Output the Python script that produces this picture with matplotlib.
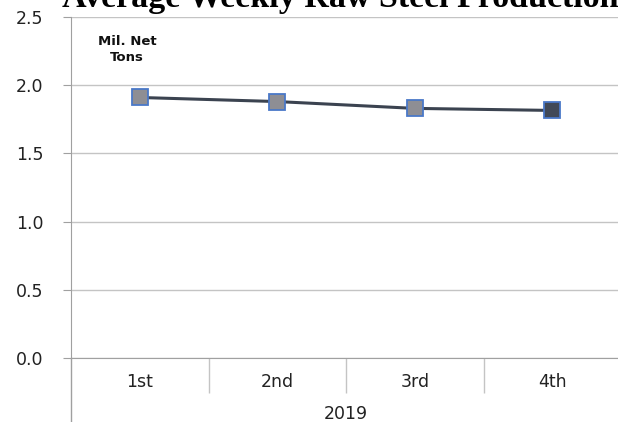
import matplotlib.pyplot as plt
import numpy as np

# Quarterly averages, 2019
quarters = ["1st", "2nd", "3rd", "4th"]
production = [1.91, 1.88, 1.83, 1.815]
year_label = "2019"
y_ticks = [0.0, 0.5, 1.0, 1.5, 2.0, 2.5]

fig = plt.figure(figsize=(6.18, 4.22), dpi=100)
ax = fig.add_axes([71 / 618, 1 - 358 / 422, 550 / 618, (358 - 17) / 422])

x = np.arange(len(quarters))
ax.plot(x, production, color="#3b4350", lw=2.2, zorder=3)
fills = ["#8e8e94", "#8e8e94", "#8e8e94", "#414957"]
for xi, yi, fc in zip(x, production, fills):
    ax.plot(xi, yi, marker="s", ms=11.5, mfc=fc, mec="#4a78c8", mew=1.3, zorder=4)

ax.set_xlim(-0.5, len(quarters) - 0.5)
ax.set_ylim(0, 2.5)
ax.set_yticks(y_ticks)
ax.set_yticklabels([f"{v:.1f}" for v in y_ticks], fontsize=12.5, color="#222222")
ax.yaxis.grid(True, color="#c4c4c4", lw=1)
ax.set_axisbelow(True)

for s in ["top", "right"]:
    ax.spines[s].set_visible(False)
ax.spines["left"].set_color("#a0a0a0")
ax.spines["bottom"].set_color("#a0a0a0")
ax.tick_params(axis="y", length=6, color="#a0a0a0", pad=14)

# category labels and dividers
ax.set_xticks(x)
ax.set_xticklabels(quarters, fontsize=12.5, color="#222222")
ax.tick_params(axis="x", which="major", length=0, pad=11)
ax.set_xticks(x[:-1] + 0.5, minor=True)
ax.tick_params(axis="x", which="minor", length=25, color="#c4c4c4", width=1)
ax.text(0.5, -0.164, year_label, transform=ax.transAxes, ha="center", va="center",
        fontsize=12.5, color="#222222")
ax.plot([0, 0], [0, -0.2], transform=ax.transAxes, color="#a0a0a0", lw=1, clip_on=False)

ax.text(0.102, 0.905, "Mil. Net\nTons", transform=ax.transAxes, ha="center", va="center",
        fontsize=9.5, fontweight="bold", color="#111111", linespacing=1.25)

fig.text(62 / 618, 1 - 7 / 422, "Average Weekly Raw Steel Production", ha="left", va="baseline",
         fontsize=24.5, fontweight="bold", family="Liberation Serif", color="#000000")

fig.savefig("out.png", dpi=100)
